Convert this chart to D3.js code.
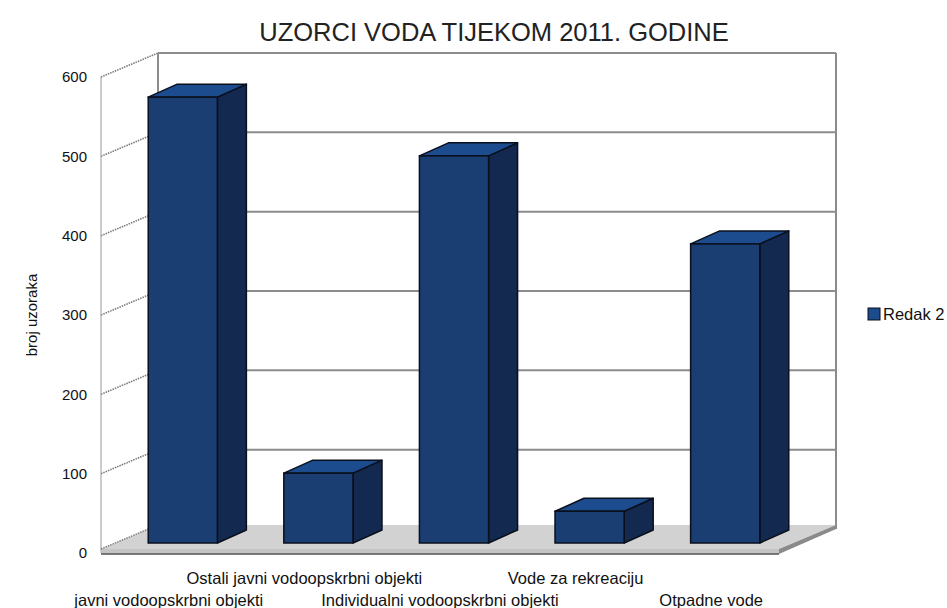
<!DOCTYPE html>
<html>
<head>
<meta charset="utf-8">
<script src="https://cdn.jsdelivr.net/npm/d3@7"></script>
<style>
  body { margin: 0; background: #fff; }
  svg { display: block; font-family: "Liberation Sans", Arial, sans-serif; }
</style>
</head>
<body>
<svg width="947" height="608"></svg>
<script>
// data
const categories = [
    "javni vodoopskrbni objekti",
    "Ostali javni vodoopskrbni objekti",
    "Individualni vodoopskrbni objekti",
    "Vode za rekreaciju",
    "Otpadne vode"
];
const values = [562, 88, 488, 40, 377];
const yTicks = [0, 100, 200, 300, 400, 500, 600];
const seriesName = "Redak 2";

const svg = d3.select("svg");

// --- 3d-ish geometry ---
const left = 101, right = 779;       // front plane
const yMin = 553, yMax = 77;         // front plane, 0 and 600
const depth = [57, -24];             // front -> back wall
const barShift = [14, -10];          // front plane -> bar front face
const barDepth = [29, -13];          // bar front -> bar back

const x = d3.scalePoint().domain(categories).range([left, right]).padding(0.5);
const barW = x.step() * 0.51;
const y = d3.scaleLinear().domain([0, 600]).range([yMin, yMax]);

const pts = a => a.map(p => p.join(",")).join(" ");

// back wall + gridlines
const backL = left + depth[0], backR = right + depth[0];
const g = svg.append("g");

g.append("rect")
    .attr("x", backL).attr("y", y(600) + depth[1])
    .attr("width", backR - backL).attr("height", y(0) - y(600))
    .attr("fill", "#fff");

g.selectAll(".grid")
    .data(yTicks.filter(d => d > 0))
    .join("line")
    .attr("x1", backL).attr("x2", backR)
    .attr("y1", d => y(d) + depth[1]).attr("y2", d => y(d) + depth[1])
    .attr("stroke", "#8c8c8c").attr("stroke-width", 2);

g.append("line")
    .attr("x1", backL).attr("x2", backL)
    .attr("y1", y(600) + depth[1]).attr("y2", y(0) + depth[1])
    .attr("stroke", "#8c8c8c").attr("stroke-width", 2);
g.append("line")
    .attr("x1", backR).attr("x2", backR)
    .attr("y1", y(600) + depth[1]).attr("y2", y(0) + depth[1])
    .attr("stroke", "#8c8c8c").attr("stroke-width", 2);

// left side wall: slanted tick lines
g.selectAll(".side")
    .data(yTicks.filter(d => d > 0))
    .join("line")
    .attr("x1", left).attr("y1", d => y(d))
    .attr("x2", left + depth[0]).attr("y2", d => y(d) + depth[1])
    .attr("stroke", "#7a7a7a").attr("stroke-width", 1.6)
    .attr("stroke-dasharray", "1.5,1");

g.append("line")
    .attr("x1", left).attr("x2", left)
    .attr("y1", y(600)).attr("y2", y(0))
    .attr("stroke", "#9a9a9a").attr("stroke-width", 1);

// floor slab
const fy = y(0) - 4;
g.append("polygon")
    .attr("points", pts([[left, fy], [right, fy], [right + depth[0], fy + depth[1]], [left + depth[0], fy + depth[1]]]))
    .attr("fill", "#d2d2d2");
g.append("polygon")
    .attr("points", pts([[right, fy], [right + depth[0], fy + depth[1]], [right + depth[0], fy + depth[1] + 4], [right, y(0) + 1]]))
    .attr("fill", "#8a8a8a");
g.append("rect")
    .attr("x", left).attr("y", fy)
    .attr("width", right - left).attr("height", 5)
    .attr("fill", "#c4c4c4");
g.append("line")
    .attr("x1", left).attr("x2", right)
    .attr("y1", y(0) + 1).attr("y2", y(0) + 1)
    .attr("stroke", "#555").attr("stroke-width", 1.5);
g.append("line")
    .attr("x1", left).attr("x2", left + depth[0])
    .attr("y1", fy).attr("y2", fy + depth[1])
    .attr("stroke", "#7a7a7a").attr("stroke-width", 1.4)
    .attr("stroke-dasharray", "1.5,1");

// bars
const bars = g.selectAll(".bar")
    .data(categories.map((c, i) => ({ c, v: values[i] })))
    .join("g");

const bx = d => x(d.c) + barShift[0] - barW / 2;
const by0 = y(0) + barShift[1];
const byt = d => y(d.v) + barShift[1];
const [ddx, ddy] = barDepth;

bars.append("polygon")
    .attr("points", d => pts([[bx(d) + barW, byt(d)], [bx(d) + barW + ddx, byt(d) + ddy],
        [bx(d) + barW + ddx, by0 + ddy], [bx(d) + barW, by0]]))
    .attr("fill", "#13294f").attr("stroke", "#0a0f1c").attr("stroke-width", 1.5)
    .attr("stroke-linejoin", "round");

bars.append("polygon")
    .attr("points", d => pts([[bx(d), byt(d)], [bx(d) + ddx, byt(d) + ddy],
        [bx(d) + barW + ddx, byt(d) + ddy], [bx(d) + barW, byt(d)]]))
    .attr("fill", "#1c4c8e").attr("stroke", "#0a0f1c").attr("stroke-width", 1.5)
    .attr("stroke-linejoin", "round");

bars.append("rect")
    .attr("x", bx).attr("y", byt)
    .attr("width", barW).attr("height", d => by0 - byt(d))
    .attr("fill", "#1a3e72").attr("stroke", "#0a0f1c").attr("stroke-width", 1.5);

// y tick labels
svg.append("g")
    .selectAll("text")
    .data(yTicks)
    .join("text")
    .attr("x", 87).attr("y", d => y(d))
    .attr("dy", "0.35em")
    .attr("text-anchor", "end")
    .attr("font-size", 15)
    .attr("fill", "#111")
    .text(d => d);

// x labels, staggered
svg.append("g")
    .selectAll("text")
    .data(categories)
    .join("text")
    .attr("x", d => x(d))
    .attr("y", (d, i) => i % 2 ? 584 : 606)
    .attr("text-anchor", "middle")
    .attr("font-size", 16.5)
    .attr("fill", "#111")
    .text(d => d);

// title
svg.append("text")
    .attr("x", 494).attr("y", 41)
    .attr("text-anchor", "middle")
    .attr("font-size", 25.5)
    .attr("fill", "#222")
    .text("UZORCI VODA TIJEKOM 2011. GODINE");

// y axis title
svg.append("text")
    .attr("transform", "translate(37,315) rotate(-90)")
    .attr("text-anchor", "middle")
    .attr("font-size", 15)
    .attr("fill", "#111")
    .text("broj uzoraka");

// legend
const lg = svg.append("g").attr("transform", "translate(868,308)");
lg.append("rect")
    .attr("width", 12).attr("height", 12)
    .attr("fill", "#1c4c8e").attr("stroke", "#0a0f1c").attr("stroke-width", 1);
lg.append("text")
    .attr("x", 15).attr("y", 12)
    .attr("font-size", 16.5)
    .attr("fill", "#111")
    .text(seriesName);
</script>
</body>
</html>
